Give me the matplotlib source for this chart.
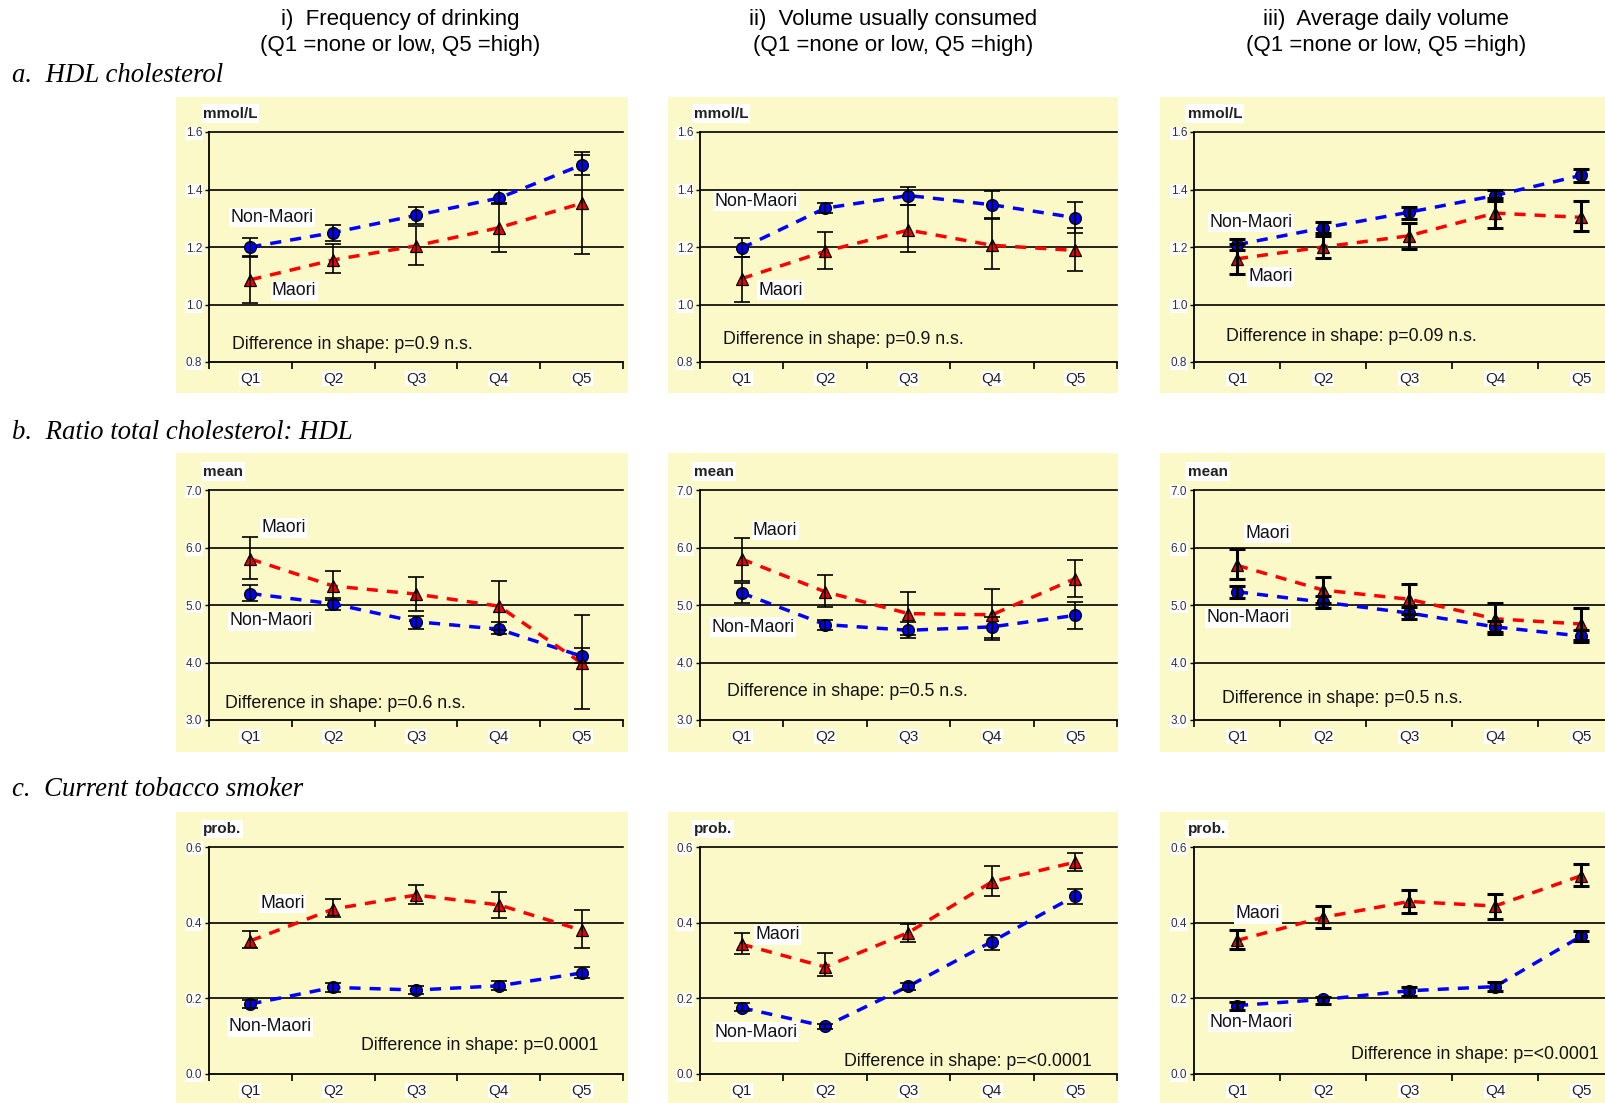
import matplotlib
matplotlib.use("Agg")
import matplotlib.pyplot as plt
import numpy as np

plt.rcParams['font.family'] = ['Liberation Sans', 'DejaVu Sans']

categories = ['Q1', 'Q2', 'Q3', 'Q4', 'Q5']

col_titles_1 = ['i)  Frequency of drinking', 'ii)  Volume usually consumed', 'iii)  Average daily volume']
col_titles_2 = ['(Q1 =none or low, Q5 =high)', '(Q1 =none or low, Q5 =high)', '(Q1 =none or low, Q5 =high)']
row_titles = ['a.  HDL cholesterol', 'b.  Ratio total cholesterol: HDL', 'c.  Current tobacco smoker']
row_units = ['mmol/L', 'mean', 'prob.']
row_yticks = [[0.8, 1.0, 1.2, 1.4, 1.6], [3.0, 4.0, 5.0, 6.0, 7.0], [0.0, 0.2, 0.4, 0.6]]

# ---- a. HDL cholesterol ----
hdl_freq_nm = [1.20, 1.25, 1.31, 1.37, 1.485]
hdl_freq_nm_lo = [1.165, 1.22, 1.28, 1.348, 1.452]
hdl_freq_nm_hi = [1.23, 1.275, 1.34, 1.40, 1.53]
hdl_freq_m = [1.086, 1.155, 1.204, 1.267, 1.352]
hdl_freq_m_lo = [1.005, 1.108, 1.139, 1.181, 1.177]
hdl_freq_m_hi = [1.17, 1.21, 1.273, 1.352, 1.52]

hdl_vol_nm = [1.196, 1.335, 1.379, 1.347, 1.302]
hdl_vol_nm_lo = [1.165, 1.318, 1.347, 1.298, 1.247]
hdl_vol_nm_hi = [1.232, 1.353, 1.408, 1.396, 1.355]
hdl_vol_m = [1.09, 1.185, 1.259, 1.206, 1.188]
hdl_vol_m_lo = [1.009, 1.124, 1.182, 1.124, 1.118]
hdl_vol_m_hi = [1.165, 1.251, 1.347, 1.30, 1.266]

hdl_avg_nm = [1.208, 1.266, 1.321, 1.379, 1.449]
hdl_avg_nm_lo = [1.19, 1.248, 1.297, 1.359, 1.427]
hdl_avg_nm_hi = [1.228, 1.286, 1.338, 1.397, 1.472]
hdl_avg_m = [1.159, 1.200, 1.239, 1.318, 1.303]
hdl_avg_m_lo = [1.106, 1.161, 1.194, 1.266, 1.257]
hdl_avg_m_hi = [1.21, 1.24, 1.285, 1.37, 1.359]

# ---- b. Ratio total cholesterol : HDL ----
ratio_freq_m = [5.80, 5.33, 5.19, 4.98, 3.99]
ratio_freq_m_lo = [5.46, 5.09, 4.90, 4.57, 3.19]
ratio_freq_m_hi = [6.18, 5.59, 5.48, 5.41, 4.83]
ratio_freq_nm = [5.20, 5.02, 4.71, 4.58, 4.11]
ratio_freq_nm_lo = [5.07, 4.91, 4.58, 4.49, 3.99]
ratio_freq_nm_hi = [5.35, 5.13, 4.81, 4.71, 4.26]

ratio_vol_m = [5.80, 5.23, 4.85, 4.83, 5.46]
ratio_vol_m_lo = [5.42, 4.97, 4.47, 4.40, 5.14]
ratio_vol_m_hi = [6.17, 5.52, 5.23, 5.27, 5.79]
ratio_vol_nm = [5.21, 4.66, 4.56, 4.62, 4.82]
ratio_vol_nm_lo = [5.04, 4.56, 4.42, 4.43, 4.59]
ratio_vol_nm_hi = [5.38, 4.74, 4.71, 4.79, 5.06]

ratio_avg_m = [5.69, 5.26, 5.10, 4.76, 4.67]
ratio_avg_m_lo = [5.45, 5.03, 4.84, 4.49, 4.39]
ratio_avg_m_hi = [5.98, 5.49, 5.36, 5.03, 4.95]
ratio_avg_nm = [5.23, 5.05, 4.86, 4.62, 4.46]
ratio_avg_nm_lo = [5.13, 4.95, 4.76, 4.53, 4.36]
ratio_avg_nm_hi = [5.33, 5.16, 4.96, 4.72, 4.57]

# ---- c. Current tobacco smoker ----
smoke_freq_m = [0.352, 0.436, 0.473, 0.447, 0.380]
smoke_freq_m_lo = [0.332, 0.415, 0.449, 0.412, 0.334]
smoke_freq_m_hi = [0.378, 0.462, 0.499, 0.482, 0.434]
smoke_freq_nm = [0.185, 0.229, 0.222, 0.233, 0.267]
smoke_freq_nm_lo = [0.175, 0.217, 0.212, 0.223, 0.253]
smoke_freq_nm_hi = [0.195, 0.240, 0.232, 0.246, 0.282]

smoke_vol_m = [0.343, 0.283, 0.374, 0.508, 0.560]
smoke_vol_m_lo = [0.316, 0.259, 0.348, 0.471, 0.536]
smoke_vol_m_hi = [0.372, 0.319, 0.397, 0.549, 0.583]
smoke_vol_nm = [0.175, 0.126, 0.232, 0.350, 0.471]
smoke_vol_nm_lo = [0.166, 0.119, 0.221, 0.328, 0.450]
smoke_vol_nm_hi = [0.188, 0.133, 0.241, 0.368, 0.489]

smoke_avg_m = [0.353, 0.414, 0.456, 0.444, 0.524]
smoke_avg_m_lo = [0.331, 0.386, 0.425, 0.411, 0.496]
smoke_avg_m_hi = [0.380, 0.444, 0.487, 0.475, 0.555]
smoke_avg_nm = [0.181, 0.197, 0.220, 0.231, 0.364]
smoke_avg_nm_lo = [0.169, 0.186, 0.206, 0.220, 0.352]
smoke_avg_nm_hi = [0.190, 0.204, 0.230, 0.242, 0.377]

p_values = [['Difference in shape: p=0.9 n.s.', 'Difference in shape: p=0.9 n.s.', 'Difference in shape: p=0.09 n.s.'],
            ['Difference in shape: p=0.6 n.s.', 'Difference in shape: p=0.5 n.s.', 'Difference in shape: p=0.5 n.s.'],
            ['Difference in shape: p=0.0001', 'Difference in shape: p=<0.0001', 'Difference in shape: p=<0.0001']]

panels = [
    [(hdl_freq_nm, hdl_freq_nm_lo, hdl_freq_nm_hi, hdl_freq_m, hdl_freq_m_lo, hdl_freq_m_hi),
     (hdl_vol_nm, hdl_vol_nm_lo, hdl_vol_nm_hi, hdl_vol_m, hdl_vol_m_lo, hdl_vol_m_hi),
     (hdl_avg_nm, hdl_avg_nm_lo, hdl_avg_nm_hi, hdl_avg_m, hdl_avg_m_lo, hdl_avg_m_hi)],
    [(ratio_freq_nm, ratio_freq_nm_lo, ratio_freq_nm_hi, ratio_freq_m, ratio_freq_m_lo, ratio_freq_m_hi),
     (ratio_vol_nm, ratio_vol_nm_lo, ratio_vol_nm_hi, ratio_vol_m, ratio_vol_m_lo, ratio_vol_m_hi),
     (ratio_avg_nm, ratio_avg_nm_lo, ratio_avg_nm_hi, ratio_avg_m, ratio_avg_m_lo, ratio_avg_m_hi)],
    [(smoke_freq_nm, smoke_freq_nm_lo, smoke_freq_nm_hi, smoke_freq_m, smoke_freq_m_lo, smoke_freq_m_hi),
     (smoke_vol_nm, smoke_vol_nm_lo, smoke_vol_nm_hi, smoke_vol_m, smoke_vol_m_lo, smoke_vol_m_hi),
     (smoke_avg_nm, smoke_avg_nm_lo, smoke_avg_nm_hi, smoke_avg_m, smoke_avg_m_lo, smoke_avg_m_hi)],
]

# label positions (axes fraction): (Non-Maori x, y, Maori x, y, diff x, y)
label_pos = [
    [(0.052, 0.628, 0.152, 0.31, 0.056, 0.076),
     (0.034, 0.70, 0.14, 0.313, 0.054, 0.099),
     (0.037, 0.607, 0.126, 0.371, 0.074, 0.109)],
    [(0.05, 0.432, 0.126, 0.836, 0.038, 0.072),
     (0.027, 0.404, 0.127, 0.824, 0.065, 0.122),
     (0.029, 0.445, 0.119, 0.812, 0.066, 0.095)],
    [(0.046, 0.208, 0.124, 0.751, 0.368, 0.125),
     (0.034, 0.185, 0.132, 0.613, 0.346, 0.056),
     (0.035, 0.229, 0.097, 0.705, 0.364, 0.085)],
]

W, H = 1606, 1103
fig = plt.figure(figsize=(W / 100, H / 100), dpi=100)
fig.patch.set_facecolor('white')

YELLOW = '#FCF9C9'
col_axes_x = [(209, 623), (700, 1117), (1194, 1624)]
col_bg_x = [(176, 628), (668, 1118), (1160, 1660)]
row_axes_y = [(132, 362), (490, 720), (847, 1074)]
row_bg_y = [(97, 393), (453, 752), (812, 1110)]
col_err_lw = [1.2, 1.2, 2.2]

for c in range(3):
    cx = [400, 893, 1386][c]
    fig.text(cx / W, 1 - 19 / H, col_titles_1[c], ha='center', va='center', fontsize=16)
    fig.text(cx / W, 1 - 45 / H, col_titles_2[c], ha='center', va='center', fontsize=16)

for r, t in enumerate(row_titles):
    ry = [75, 432, 790][r]
    fig.text(12 / W, 1 - ry / H, t, ha='left', va='center', fontsize=19.3,
             family=['Liberation Serif', 'DejaVu Serif'], style='italic')

for r in range(3):
    for c in range(3):
        bx0, bx1 = col_bg_x[c]
        by0, by1 = row_bg_y[r]
        bg = fig.add_axes([bx0 / W, 1 - by1 / H, (bx1 - bx0) / W, (by1 - by0) / H])
        bg.set_facecolor(YELLOW)
        bg.set_xticks([]); bg.set_yticks([])
        for s in bg.spines.values():
            s.set_visible(False)
        bg.set_zorder(0)

        ax0, ax1 = col_axes_x[c]
        ay0, ay1 = row_axes_y[r]
        ax = fig.add_axes([ax0 / W, 1 - ay1 / H, (ax1 - ax0) / W, (ay1 - ay0) / H])
        ax.set_zorder(1)
        ax.patch.set_alpha(0)

        nm, nm_lo, nm_hi, m, m_lo, m_hi = panels[r][c]
        x = np.arange(len(categories))
        nm = np.array(nm); m = np.array(m)
        yt = row_yticks[r]
        ax.set_ylim(yt[0], yt[-1])
        ax.set_xlim(-0.5, len(categories) - 0.5)
        for v in yt[1:]:
            ax.axhline(v, color='black', lw=1.2, zorder=1, clip_on=False)

        ax.plot(x, nm, color='#0000FF', lw=2.5, ls=(0, (3.2, 2.6)), zorder=2)
        ax.plot(x, m, color='#FF0000', lw=2.5, ls=(0, (3.2, 2.6)), zorder=2)
        ax.plot(x, nm, 'o', color='#0000EE', mec='black', mew=0.9, ms=8.5, zorder=3)
        ax.plot(x, m, '^', color='#EE0000', mec='black', mew=0.9, ms=9, zorder=4)
        elw = col_err_lw[c]
        ax.errorbar(x, nm, yerr=[nm - np.array(nm_lo), np.array(nm_hi) - nm], fmt='none',
                    ecolor='black', elinewidth=elw, capsize=5.5, capthick=elw, zorder=5)
        ax.errorbar(x, m, yerr=[m - np.array(m_lo), np.array(m_hi) - m], fmt='none',
                    ecolor='black', elinewidth=elw, capsize=5.5, capthick=elw, zorder=5)

        for side in ['top', 'right']:
            ax.spines[side].set_visible(False)
        ax.spines['left'].set_linewidth(1.3)
        ax.spines['bottom'].set_linewidth(1.3)

        tick_box = dict(facecolor='white', edgecolor='none', pad=0.6)
        ax.set_yticks(yt)
        ax.set_yticklabels(['%.1f' % v for v in yt], fontsize=8.5, color='#333333')
        for tl in ax.get_yticklabels():
            tl.set_bbox(tick_box)
        ax.tick_params(axis='y', direction='out', length=3, width=1, pad=2)
        ax.set_xticks(np.arange(-0.5, len(categories), 1.0))
        ax.set_xticklabels([])
        ax.tick_params(axis='x', which='major', direction='out', length=5, width=1.2)
        ax.set_xticks(x, minor=True)
        ax.set_xticklabels(categories, minor=True, fontsize=11, color='#222222')
        for tl in ax.get_xticklabels(minor=True):
            tl.set_bbox(tick_box)
        ax.tick_params(axis='x', which='minor', length=0, pad=7)

        ax.text(-0.015, 1.05, row_units[r], transform=ax.transAxes, ha='left', va='bottom',
                fontsize=11, fontweight='bold', color='#222222',
                bbox=dict(facecolor='white', edgecolor='none', pad=1.5))

        lp = label_pos[r][c]
        box = dict(facecolor='white', edgecolor='none', pad=1.0)
        ax.text(lp[0], lp[1], 'Non-Maori', transform=ax.transAxes, ha='left', va='center',
                fontsize=12.8, color='#111111', bbox=box, zorder=6)
        ax.text(lp[2], lp[3], 'Maori', transform=ax.transAxes, ha='left', va='center',
                fontsize=12.8, color='#111111', bbox=box, zorder=6)
        ax.text(lp[4], lp[5], p_values[r][c], transform=ax.transAxes, ha='left', va='center',
                fontsize=12.8, color='#111111', zorder=6)

fig.savefig('out.png', dpi=100, facecolor='white')
